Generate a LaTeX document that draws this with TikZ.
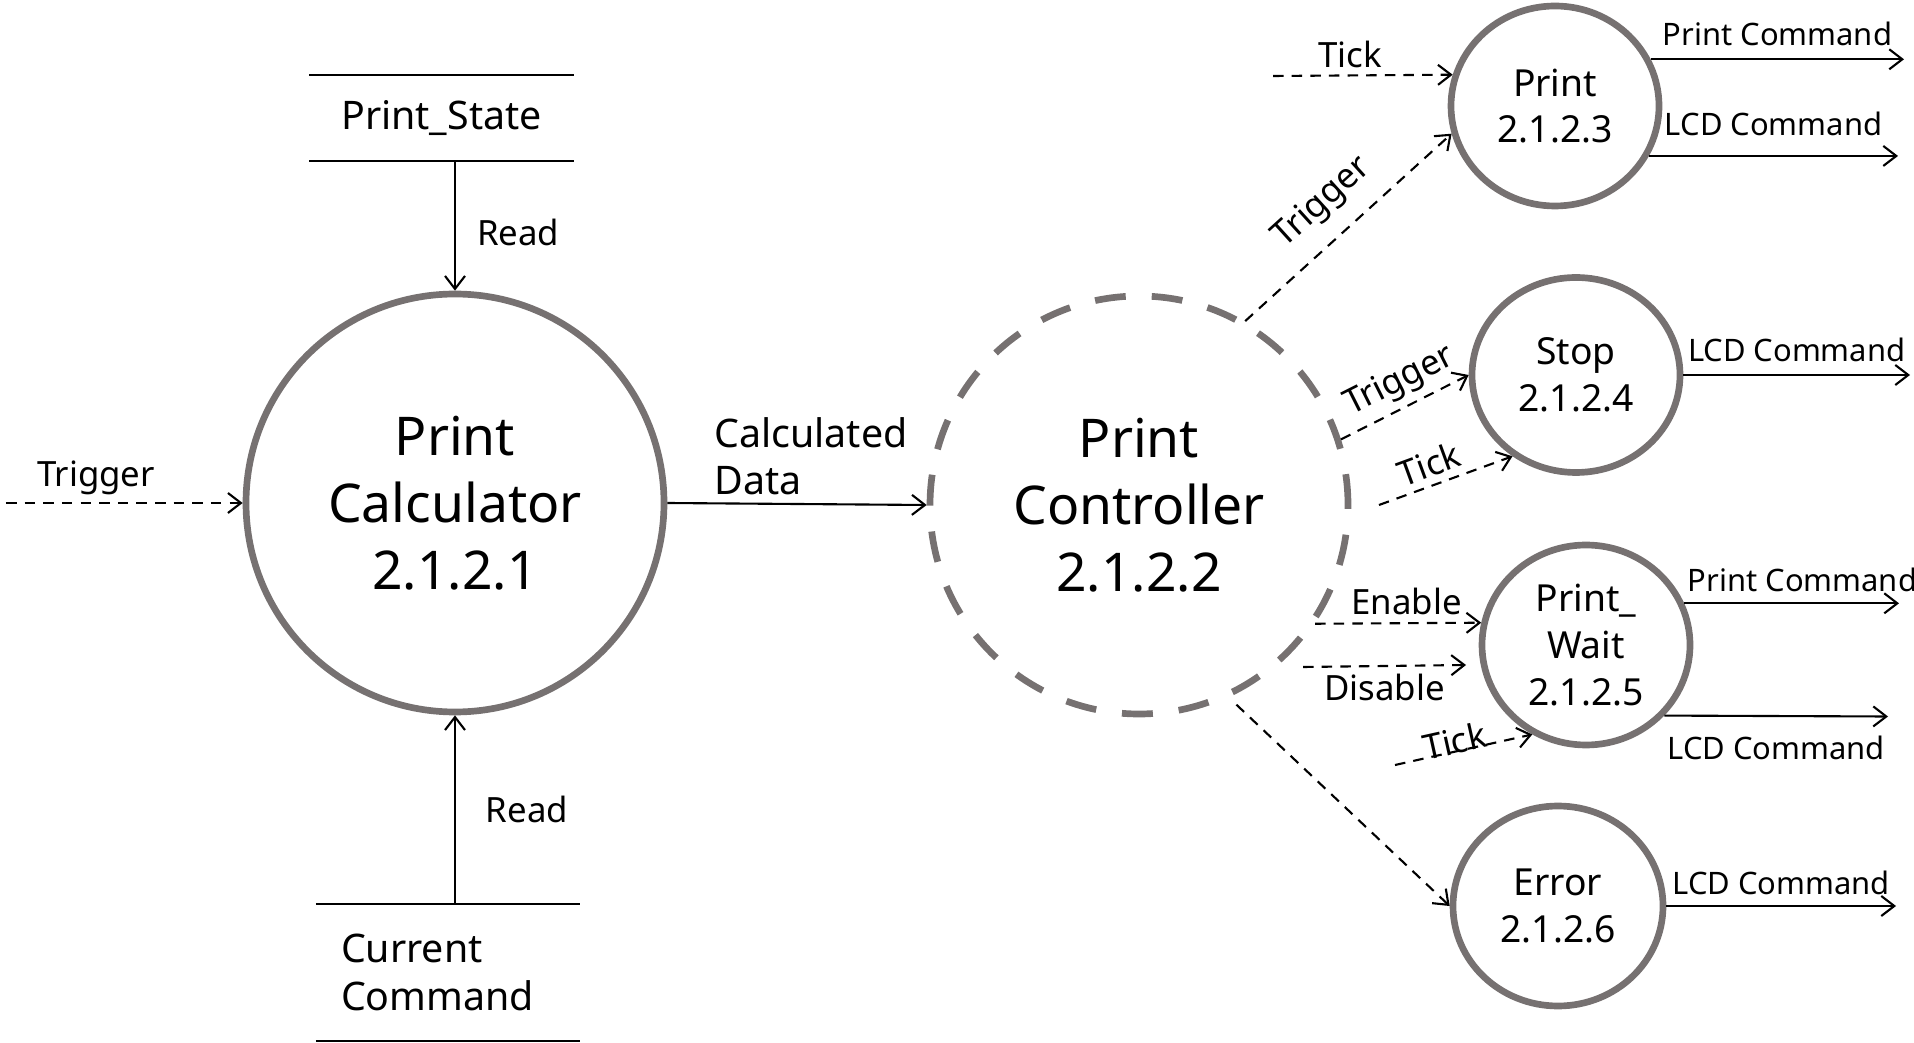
\documentclass[tikz,border=0pt]{standalone}
\usepackage{fontspec}
\setmainfont{Noto Sans}
\usetikzlibrary{arrows.meta}
\usetikzlibrary{shapes.geometric}
\usetikzlibrary{positioning}
\definecolor{ringgray}{RGB}{118,113,113}
\tikzset{
    process/.style={circle, draw=ringgray, line width=1.9pt, minimum size=4.18cm,
        align=center, font=\fontsize{15.2}{19}\selectfont},
    controller/.style={process, dash pattern=on 8.8pt off 7.4pt},
    subprocess/.style={ellipse, draw=ringgray, line width=1.9pt, minimum width=2.08cm,
        minimum height=2cm, inner sep=0pt, align=center, font=\fontsize{10.6}{13.3}\selectfont},
    store/.style={minimum width=2.62cm, font=\fontsize{11.2}{13.5}\selectfont},
    dataflow/.style={draw=black, line width=.6pt, -{Straight Barb[length=1.3mm,width=2mm]}},
    control/.style={dataflow, dash pattern=on 3pt off 2.3pt},
    flowlabel/.style={font=\fontsize{9.9}{12}\selectfont, inner sep=2pt},
    outlabel/.style={font=\fontsize{8.8}{10}\selectfont, inner sep=2pt},
}
\begin{document}
\begin{tikzpicture}[line width=.6pt]
\useasboundingbox (0,0) rectangle (19.14,-10.43);

		\node[process] (calc) at (4.55,-5.03) {Print\\Calculator\\2.1.2.1};
		\node[controller] (ctrl) at (11.39,-5.05) {Print\\Controller\\2.1.2.2};

		\node[subprocess] (print) at (15.55,-1.06) {Print\\2.1.2.3};
		\node[subprocess, minimum height=1.95cm] (stop) at (15.76,-3.75) {Stop\\2.1.2.4};
		\node[subprocess] (pwait) at (15.86,-6.45) {Print\_\\Wait\\2.1.2.5};
		\node[subprocess, minimum width=2.1cm] (error) at (15.58,-9.06) {Error\\2.1.2.6};

		% data stores
		\node[store, minimum height=.84cm] (pstate) at (4.415,-1.18) {Print\_State};
		\draw (pstate.north west) -- (pstate.north east);
		\draw (pstate.south west) -- (pstate.south east);
		\node[store, minimum height=1.35cm, text width=2.14cm, inner xsep=.24cm, align=left] (ccmd) at (4.48,-9.725) {Current\\Command};
		\draw (ccmd.north west) -- (ccmd.north east);
		\draw (ccmd.south west) -- (ccmd.south east);

		\draw[dataflow] (calc.north |- pstate.south) -- (calc.north)
			node[flowlabel, right=4pt, pos=.55] {Read};
		\draw[dataflow] (calc.south |- ccmd.north) -- (calc.south)
			node[flowlabel, right=6.5pt, midway] {Read};

		\coordinate (trigin) at (0.06,-5.03);
		\draw[control] (trigin) -- (calc.west) node[flowlabel, above, pos=.38] {Trigger};
		\draw[dataflow] (calc.east) -- (ctrl.west)
			node[flowlabel, font=\fontsize{11.2}{13.5}\selectfont, above right, align=left, pos=.15] {Calculated\\Data};

		% Print 2.1.2.3
		\coordinate (tickP) at (12.73,-0.76);
		\draw[control] (tickP) -- (print.163) node[flowlabel, above, pos=.43] {Tick};
		\draw[control] (ctrl.60) -- (print.195) node[flowlabel, sloped, above=3pt, pos=.49] {Trigger};
		\coordinate (p-out1) at (19.04,-0.61);
		\coordinate (p-out2) at (18.98,-1.55);
		\draw[dataflow] (print.26) -- (print.26 -| p-out1) node[outlabel, above=1.5pt, midway] {Print Command};
		\draw[dataflow] (print.-28) -- (print.-28 -| p-out2) node[outlabel, above=3.5pt, midway] {LCD Command};

		% Stop 2.1.2.4
		\draw[control] (ctrl.18) -- (stop.west) node[flowlabel, sloped, above, pos=.55] {Trigger};
		\coordinate (tickS) at (13.79,-5.05);
		\draw[control] (tickS) -- (stop.232) node[flowlabel, sloped, above, pos=.43] {Tick};
		\coordinate (s-out) at (19.10,-3.72);
		\draw[dataflow] (stop.east) -- (stop.east -| s-out) node[outlabel, above=1.5pt, midway] {LCD Command};

		% Print_Wait 2.1.2.5
		\draw[control] (ctrl.-34) -- (pwait.168) node[flowlabel, above, pos=.55] {Enable};
		\coordinate (disA) at (13.03,-6.67);
		\coordinate (disB) at (14.66,-6.65);
		\draw[control] (disA) -- (disB) node[flowlabel, below, midway] {Disable};
		\coordinate (tickW) at (13.95,-7.65);
		\draw[control] (tickW) -- (pwait.239) node[flowlabel, sloped, above=-3pt, pos=.45] {Tick};
		\coordinate (w-out1) at (18.99,-6.04);
		\coordinate (w-out2) at (18.88,-7.165);
		\draw[dataflow] (pwait.23) -- (pwait.23 -| w-out1) node[outlabel, above=1pt, pos=.55] {Print Command};
		\draw[dataflow] (pwait.-42) -- (w-out2) node[outlabel, below=3.5pt, midway] {LCD Command};

		% Error 2.1.2.6
		\draw[control, shorten <=3pt] (ctrl.-65) -- (error.west);
		\coordinate (e-out) at (18.96,-9.06);
		\draw[dataflow] (error.east) -- (error.east -| e-out) node[outlabel, above=.8pt, midway] {LCD Command};
\end{tikzpicture}
\end{document}
